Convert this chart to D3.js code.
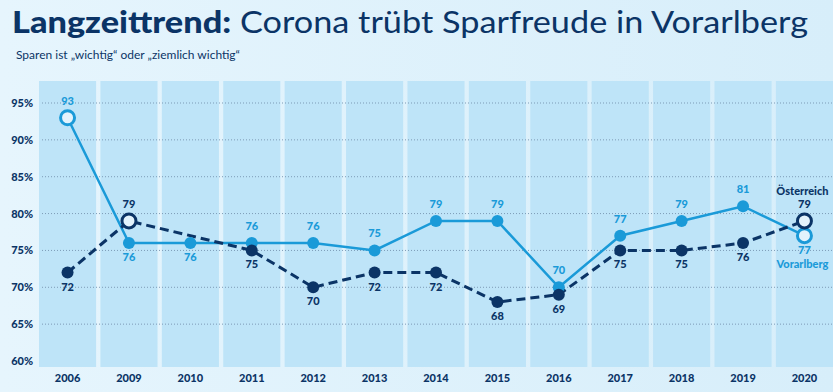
<!DOCTYPE html>
<html>
<head>
<meta charset="utf-8">
<script src="https://cdn.jsdelivr.net/npm/d3@7"></script>
<style>
  body { margin: 0; background: #dcf0fb; }
  svg { display: block; font-family: Lato, "Open Sans", sans-serif; }
</style>
</head>
<body>
<div id="chart"></div>
<script>
// data
var years = ["2006", "2009", "2010", "2011", "2012", "2013", "2014", "2015", "2016", "2017", "2018", "2019", "2020"];
var vorarlberg = [93, 76, 76, 76, 76, 75, 79, 79, 70, 77, 79, 81, 77];
var oesterreich = [72, 79, null, 75, 70, 72, 72, 68, 69, 75, 75, 76, 79];
var yTicks = [60, 65, 70, 75, 80, 85, 90, 95];

var titleBold = "Langzeittrend:";
var titleRest = " Corona trübt Sparfreude in Vorarlberg";
var subtitle = "Sparen ist „wichtig“ oder „ziemlich wichtig“";

var W = 833, H = 392;
var navy = "#0b3466";
var light = "#1a9ad8";

var svg = d3.select("#chart").append("svg")
    .attr("width", W)
    .attr("height", H);

var defs = svg.append("defs");
var grad = defs.append("linearGradient").attr("id", "bg").attr("x1", 0).attr("x2", 1).attr("y1", 0).attr("y2", 0);
grad.append("stop").attr("offset", "0%").attr("stop-color", "#e6f5fd");
grad.append("stop").attr("offset", "100%").attr("stop-color", "#d7eefa");

svg.append("rect").attr("width", W).attr("height", H).attr("fill", "url(#bg)");

// scales
var x = d3.scaleBand()
    .domain(years)
    .range([39, 833])
    .paddingInner(0.07)
    .paddingOuter(0);

var y = d3.scaleLinear()
    .domain([60, 95])
    .range([361, 103]);

// column backgrounds
svg.append("g").selectAll("rect")
    .data(years)
    .enter()
    .append("rect")
    .attr("x", d => x(d))
    .attr("y", 81)
    .attr("width", x.bandwidth())
    .attr("height", 367 - 81)
    .attr("fill", "#bee4f8");

// grid lines (no line at the bottom tick)
svg.append("g").selectAll("line")
    .data(yTicks.filter(d => d > 60))
    .enter()
    .append("line")
    .attr("x1", 42)
    .attr("x2", W)
    .attr("y1", d => y(d))
    .attr("y2", d => y(d))
    .attr("stroke", "#7d9bb6")
    .attr("stroke-width", 1)
    .attr("stroke-dasharray", "1,2");

// y axis labels
var yAxis = d3.axisLeft(y).tickValues(yTicks).tickSize(0).tickPadding(0).tickFormat(d => d + "%");
var yg = svg.append("g")
    .attr("transform", "translate(33,0)")
    .call(yAxis);
yg.select(".domain").remove();
yg.selectAll("text")
    .attr("fill", navy)
    .style("font-size", "11px")
    .style("font-weight", "900")
    .style("font-family", "Lato, sans-serif");

// x axis labels
var xAxis = d3.axisBottom(x).tickSize(0).tickPadding(0);
var xg = svg.append("g")
    .attr("transform", "translate(0,374)")
    .call(xAxis);
xg.select(".domain").remove();
xg.selectAll("text")
    .attr("fill", navy)
    .style("font-size", "11px")
    .style("font-weight", "900")
    .style("font-family", "Lato, sans-serif");

// series
var cx = d => x(d.year) + x.bandwidth() / 2;

function toPoints(values) {
    return years.map((yr, i) => ({ year: yr, i: i, v: values[i] }))
        .filter(d => d.v != null);
}

var vPts = toPoints(vorarlberg);
var oPts = toPoints(oesterreich);

var line = d3.line().x(cx).y(d => y(d.v));

svg.append("path")
    .datum(vPts)
    .attr("d", line)
    .attr("fill", "none")
    .attr("stroke", light)
    .attr("stroke-width", 2.5);

svg.append("path")
    .datum(oPts)
    .attr("d", line)
    .attr("fill", "none")
    .attr("stroke", navy)
    .attr("stroke-width", 3)
    .attr("stroke-dasharray", "9,5");

// other series value at a year (interpolated over gaps)
function valueAt(values, i) {
    if (values[i] != null) return values[i];
    var a = i - 1, b = i + 1;
    while (a >= 0 && values[a] == null) a--;
    while (b < values.length && values[b] == null) b++;
    return values[a] + (values[b] - values[a]) * (i - a) / (b - a);
}

function drawSeries(pts, values, other, color) {
    var maxV = d3.max(values);
    var last = pts[pts.length - 1];
    var hollow = d => d.v === maxV || d === last;

    var g = svg.append("g");
    g.selectAll("circle")
        .data(pts)
        .enter()
        .append("circle")
        .attr("cx", cx)
        .attr("cy", d => y(d.v))
        .attr("r", d => hollow(d) ? 7 : 6)
        .attr("fill", d => hollow(d) ? "#e3f3fc" : color)
        .attr("stroke", color)
        .attr("stroke-width", d => hollow(d) ? 3 : 0);

    g.selectAll("text")
        .data(pts)
        .enter()
        .append("text")
        .attr("x", cx)
        .attr("y", d => {
            var above = d.v >= valueAt(other, d.i);
            return above ? y(d.v) - 13 : y(d.v) + 18;
        })
        .attr("text-anchor", "middle")
        .attr("fill", color)
        .style("font-size", "11px")
        .style("font-weight", "900")
        .text(d => d.v);
}

drawSeries(vPts, vorarlberg, oesterreich, light);
drawSeries(oPts, oesterreich, vorarlberg, navy);

// series names next to the last column
var lastX = x("2020") + x.bandwidth() / 2 - 2;
svg.append("text")
    .attr("x", lastX)
    .attr("y", 195)
    .attr("text-anchor", "middle")
    .attr("fill", navy)
    .style("font-size", "11px")
    .style("font-weight", "900")
    .text("Österreich");
svg.append("text")
    .attr("x", lastX)
    .attr("y", 268)
    .attr("text-anchor", "middle")
    .attr("fill", light)
    .style("font-size", "11px")
    .style("font-weight", "900")
    .text("Vorarlberg");

// title
var title = svg.append("text")
    .attr("x", 12)
    .attr("y", 33)
    .attr("fill", navy)
    .style("font-size", "31px")
    .attr("textLength", 796)
    .attr("lengthAdjust", "spacingAndGlyphs");
title.append("tspan").style("font-weight", "900").text(titleBold);
title.append("tspan").style("font-weight", "400").text(titleRest);

svg.append("text")
    .attr("x", 16)
    .attr("y", 59)
    .attr("fill", navy)
    .style("font-size", "12px")
    .attr("textLength", 224)
    .attr("lengthAdjust", "spacingAndGlyphs")
    .text(subtitle);
</script>
</body>
</html>
